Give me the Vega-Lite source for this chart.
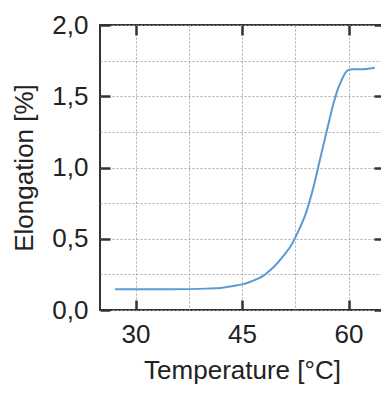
{
  "$schema": "https://vega.github.io/schema/vega-lite/v6.json",
  "width": 284,
  "height": 285,
  "autosize": "none",
  "padding": {"left": 100, "top": 25, "right": 0, "bottom": 91},
  "background": "white",
  "config": {
    "view": {"stroke": "#333", "strokeWidth": 2},
    "font": "Liberation Sans",
    "axis": {
      "labelFont": "Liberation Sans",
      "titleFont": "Liberation Sans",
      "labelFontSize": 26,
      "titleFontSize": 26,
      "titleFontWeight": "normal",
      "labelColor": "#222",
      "titleColor": "#222",
      "domain": false,
      "tickColor": "#333",
      "tickWidth": 2.5,
      "tickSize": -10,
      "gridColor": "#aaa",
      "gridDash": [2, 2],
      "gridWidth": 1
    }
  },
  "data": {
    "values": [
      {"t": 27.1, "e": 0.145},
      {"t": 30, "e": 0.145},
      {"t": 35, "e": 0.145},
      {"t": 40, "e": 0.15},
      {"t": 42, "e": 0.155},
      {"t": 44, "e": 0.17},
      {"t": 45, "e": 0.18},
      {"t": 46, "e": 0.195},
      {"t": 47, "e": 0.215},
      {"t": 48, "e": 0.24},
      {"t": 49, "e": 0.28},
      {"t": 50, "e": 0.33},
      {"t": 51, "e": 0.39},
      {"t": 52, "e": 0.46},
      {"t": 53, "e": 0.56},
      {"t": 54, "e": 0.68},
      {"t": 55, "e": 0.85},
      {"t": 56, "e": 1.06},
      {"t": 57, "e": 1.27},
      {"t": 58, "e": 1.47},
      {"t": 58.5, "e": 1.55},
      {"t": 59, "e": 1.61},
      {"t": 59.5, "e": 1.66},
      {"t": 60, "e": 1.685},
      {"t": 60.5, "e": 1.69},
      {"t": 61, "e": 1.69},
      {"t": 62, "e": 1.69},
      {"t": 63, "e": 1.695},
      {"t": 63.7, "e": 1.7}
    ]
  },
  "resolve": {"axis": {"x": "independent", "y": "independent"}},
  "layer": [
    {
      "mark": {"type": "line", "color": "#5b9bd5", "strokeWidth": 2, "interpolate": "monotone"},
      "encoding": {
        "x": {
          "field": "t", "type": "quantitative",
          "scale": {"domain": [25, 65], "nice": false, "zero": false},
          "axis": {
            "orient": "bottom",
            "values": [30, 37.5, 45, 52.5, 60],
            "grid": true,
            "labelExpr": "datum.value % 15 == 0 ? datum.label : ''",
            "tickOpacity": {"condition": {"test": "datum.value % 15 == 0", "value": 1}, "value": 0},
            "labelPadding": 21,
            "title": "Temperature [°C]",
            "titlePadding": 10
          }
        },
        "y": {
          "field": "e", "type": "quantitative",
          "scale": {"domain": [0, 2], "nice": false},
          "axis": {
            "orient": "left",
            "values": [0, 0.25, 0.5, 0.75, 1, 1.25, 1.5, 1.75, 2],
            "grid": true,
            "labelExpr": "(datum.value * 2) % 1 == 0 ? replace(format(datum.value, '.1f'), '.', ',') : ''",
            "tickOpacity": {"condition": {"test": "(datum.value * 2) % 1 == 0", "value": 1}, "value": 0},
            "labelPadding": 22,
            "title": "Elongation [%]",
            "titlePadding": 14
          }
        }
      }
    },
    {
      "mark": {"type": "line", "opacity": 0},
      "encoding": {
        "x": {
          "field": "t", "type": "quantitative",
          "axis": {"orient": "top", "values": [30, 45, 60], "labels": false, "grid": false, "title": null}
        },
        "y": {
          "field": "e", "type": "quantitative",
          "axis": {"orient": "right", "values": [0, 0.5, 1, 1.5, 2], "labels": false, "grid": false, "title": null}
        }
      }
    }
  ]
}
